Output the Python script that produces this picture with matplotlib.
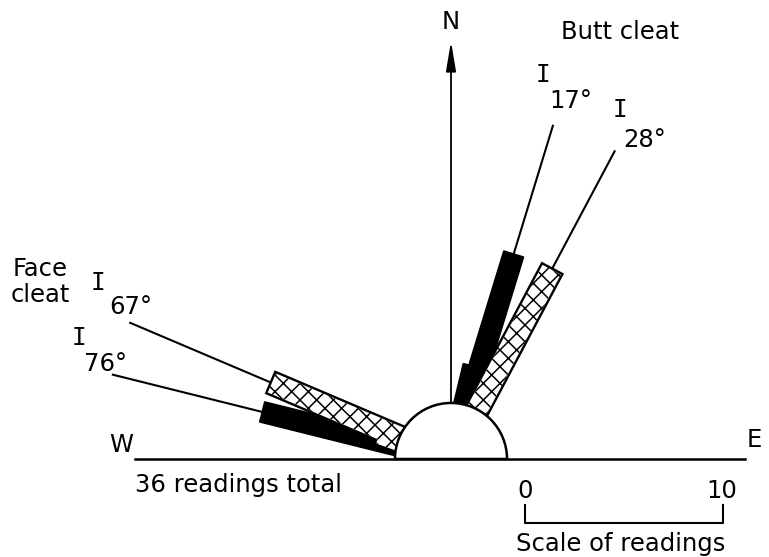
#!/usr/bin/env python3
"""
Rose diagram of cleat orientations (face cleat / butt cleat).
"""

import numpy as np
import matplotlib
matplotlib.use('Agg')
import matplotlib.pyplot as plt
from matplotlib.patches import Polygon, Wedge

# Data: bearings in degrees from north (east positive, west negative),
# counts in readings
butt_solid_angles = [13.5, 17]
butt_solid_counts = [2, 8]
butt_hatched_angles = [28]
butt_hatched_counts = [8]
face_solid_angles = [-72.5, -76]
face_solid_counts = [3, 7]
face_hatched_angles = [-70.5, -67]
face_hatched_counts = [1, 7]

mean_angles = [17, 28, -67, -76]
mean_labels = ['17°', '28°', '67°', '76°']
scale_ticks = [0, 10]
total_readings = 36

# Layout
PX = 19.8          # pixels per reading
CX, CY = 451, 459  # centre of the rose in pixels
R0 = 2.83          # radius of the central semicircle (readings)
BAR_W = 1.05
LINE_R = 17.6
FS = 17.5


def bar_poly(angle, r0, r1, w):
    t = np.radians(angle)
    u = np.array([np.sin(t), np.cos(t)])
    p = np.array([np.cos(t), -np.sin(t)])
    pts = [r0 * u - w / 2 * p, r1 * u - w / 2 * p, r1 * u + w / 2 * p, r0 * u + w / 2 * p]
    return np.array(pts)


def ftext(x, y, s, **kw):
    fig.text(x / 769, 1 - y / 557, s, ha='center', va='center', fontsize=FS, **kw)


fig = plt.figure(figsize=(7.69, 5.57), dpi=100)
ax = fig.add_axes([0, 0, 1, 1])
ax.set_xlim(-CX / PX, (769 - CX) / PX)
ax.set_ylim(-(557 - CY) / PX, CY / PX)
ax.axis('off')

plt.rcParams['hatch.linewidth'] = 1.1

# solid bars
for angles, counts in [(butt_solid_angles, butt_solid_counts), (face_solid_angles, face_solid_counts)]:
    for a, c in zip(angles, counts):
        ax.add_patch(Polygon(bar_poly(a, 2.4, R0 + c, BAR_W), closed=True,
                             facecolor='black', edgecolor='black', lw=1, zorder=2))

# hatched bars: black outline layer, then hatched fill on top
for angles, counts in [(butt_hatched_angles, butt_hatched_counts), (face_hatched_angles, face_hatched_counts)]:
    for a, c in zip(angles, counts):
        ax.add_patch(Polygon(bar_poly(a, 2.4, R0 + c, BAR_W), closed=True,
                             facecolor='black', edgecolor='black', lw=3.4, zorder=3))
    for a, c in zip(angles, counts):
        ax.add_patch(Polygon(bar_poly(a, 2.4, R0 + c, BAR_W), closed=True,
                             facecolor='white', edgecolor='black', lw=0, hatch='xx', zorder=4))

# mean direction lines from the tip of the longest bar
tips = [R0 + max(butt_solid_counts), R0 + max(butt_hatched_counts),
        R0 + max(face_hatched_counts), R0 + max(face_solid_counts)]
for a, r1 in zip(mean_angles, tips):
    t = np.radians(a)
    ax.plot([r1 * np.sin(t), LINE_R * np.sin(t)], [r1 * np.cos(t), LINE_R * np.cos(t)],
            color='black', lw=1.5, zorder=2)

# central semicircle and baseline
ax.add_patch(Wedge((0, 0), R0, 0, 180, facecolor='white', edgecolor='black', lw=1.8, zorder=5))
ax.plot([-15.96, 14.85], [0, 0], color='black', lw=1.8, zorder=6)

# north arrow
ax.annotate('', xy=(0, 21.1), xytext=(0, R0),
            arrowprops=dict(arrowstyle='-|>,head_length=1.8,head_width=0.3',
                            lw=1.3, color='black', shrinkA=0, shrinkB=0), zorder=6)

# scale bar
s0 = 3.74
ax.plot([s0 + scale_ticks[0], s0 + scale_ticks[0], s0 + scale_ticks[1], s0 + scale_ticks[1]],
        [-2.32, -3.23, -3.23, -2.32], color='black', lw=1.5)
for v, xp in zip(scale_ticks, [525, 722]):
    ftext(xp, 491, str(v))
ftext(621, 544, 'Scale of readings')

# labels
ftext(451, 22, 'N')
ftext(121, 445, 'W')
ftext(754, 440, 'E')
ftext(620, 32, 'Butt cleat')
ftext(40, 282, 'Face\ncleat', linespacing=1.15)
ftext(238, 485, f'{total_readings} readings total')
for (ix, iy), (lx, ly), lab in zip([(543, 75), (620, 110), (98, 283), (79, 338)],
                                   [(571, 101), (645, 140), (131, 307), (105, 364)],
                                   mean_labels):
    ftext(ix, iy, 'I', family='DejaVu Sans Mono')
    ftext(lx, ly, lab)

fig.savefig('out.png', dpi=100)
